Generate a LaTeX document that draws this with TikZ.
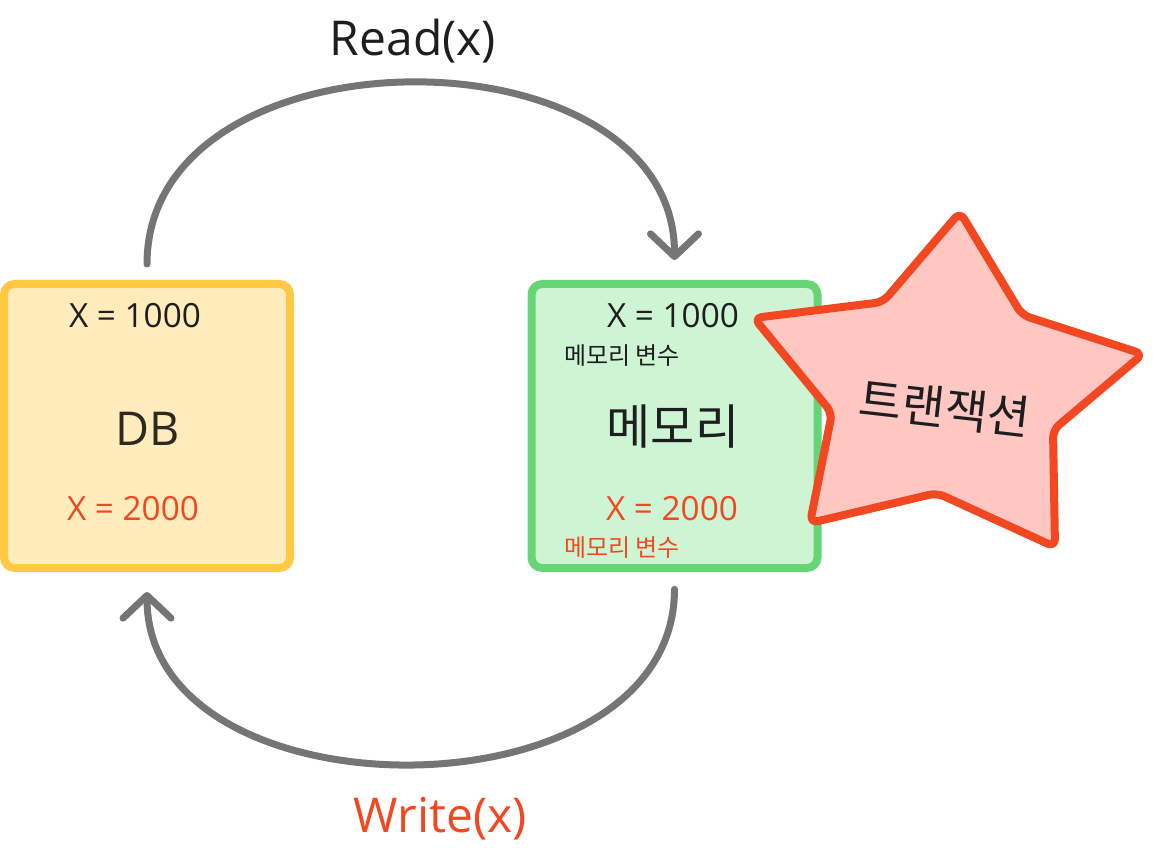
\documentclass[tikz,border=0pt]{standalone}
\usepackage{fontspec}
\setmainfont{Open Sans}
\newfontfamily\kr{Noto Sans CJK KR}
\usetikzlibrary{arrows.meta,positioning}

\definecolor{dbline}{HTML}{FFC943}
\definecolor{dbfill}{HTML}{FFECBD}
\definecolor{memline}{HTML}{66D575}
\definecolor{memfill}{HTML}{CDF4D3}
\definecolor{txline}{HTML}{F24822}
\definecolor{txfill}{HTML}{FFC7C2}
\definecolor{flowgray}{HTML}{757575}
\definecolor{ink}{HTML}{1E1E1E}

\begin{document}
\begin{tikzpicture}[x=0.75pt,y=-0.75pt,
    box/.style={draw,line width=6pt,rounded corners=8pt,inner sep=0pt,
                minimum width=214.5pt,minimum height=213pt},
    flow/.style={draw=flowgray,line width=5.25pt,line cap=round,
                 -{Straight Barb[length=17pt,width=36pt,round]}},
    val/.style={anchor=base,text=ink,font=\fontsize{25}{29}\selectfont},
    small/.style={anchor=base,text=ink,font=\kr\fontsize{18}{22}\selectfont},
    title/.style={anchor=base,text=ink,font=\fontsize{36}{40}\selectfont}]

  \useasboundingbox (0,0) rectangle (1153,852);

  \node[box,draw=dbline,fill=dbfill]   (db)  at (147,426)   {};
  \node[box,draw=memline,fill=memfill] (mem) at (674.5,426) {};

  % DB
  \node[val]                 (dbold) at (135,328) {X = 1000};
  \node[val,font=\fontsize{35}{40}\selectfont,text=ink!90!brown] (dbname) at (148,445) {DB};
  \node[val,text=txline]     (dbnew) at (133,520) {X = 2000};

  % memory
  \node[val]                 (memold)  at (673,328) {X = 1000};
  \node[small]               (memvar1) at (622,364) {메모리 변수};
  \node[val,font=\kr\fontsize{36}{42}\selectfont] (memname) at (673,444) {메모리};
  \node[val,text=txline]     (memnew)  at (672,520) {X = 2000};
  \node[small,text=txline]   (memvar2) at (622,556) {메모리 변수};

  % transaction
  \draw[draw=txline,fill=txfill,line width=6pt,rounded corners=6pt,line join=round]
    (960,212) -- (1022,315) -- (1143,354) -- (1053,430) -- (1055,547)
    -- (937,493) -- (810,523) -- (832,413) -- (754,318) -- (883,302) -- cycle;
  \node[text=ink,rotate=-6.5,font=\kr\fontsize{35}{40}\selectfont] (tx) at (945,408) {트랜잭션};

  % read / write
  \draw[flow,shorten <=12pt,shorten >=15pt]
    (db.north) .. controls (147,23) and (674.5,23) .. (mem.north);
  \draw[flow,shorten <=13pt,shorten >=15pt]
    (mem.south) .. controls (674.5,822) and (147,822) .. (db.south);

  \node[title]             (read)  at (413,56)  {Read(x)};
  \node[title,text=txline] (write) at (440,832) {Write(x)};
\end{tikzpicture}
\end{document}
